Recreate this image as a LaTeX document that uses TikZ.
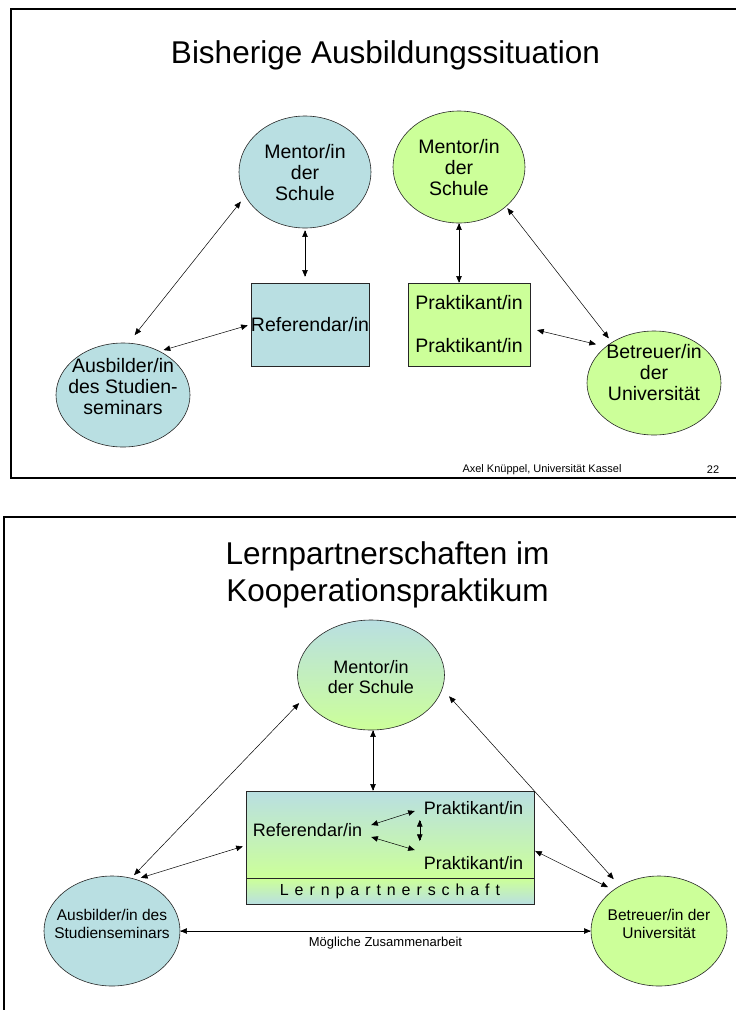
\documentclass[tikz,border=0pt]{standalone}
\usepackage{fontspec}
\setmainfont{Liberation Sans}
\usetikzlibrary{arrows,positioning,calc,shapes.geometric}
\definecolor{seminarblau}{HTML}{B9DFE2}
\definecolor{unigruen}{HTML}{CCFF99}

\begin{document}
\begin{tikzpicture}[x=1pt,y=-1pt,
  rolle/.style={ellipse, draw=black!85, line width=.6pt, inner sep=0pt},
  kasten/.style={rectangle, draw=black!85, line width=.6pt, inner sep=0pt, align=center},
  gross/.style={font=\fontsize{19.5}{21}\selectfont, align=center, inner sep=0pt},
  mittel/.style={font=\fontsize{18}{20}\selectfont, align=center, inner sep=1pt},
  klein/.style={font=\fontsize{15.5}{18}\selectfont, align=center, inner sep=0pt},
  titel/.style={font=\fontsize{31.5}{37}\selectfont, inner sep=0pt},
  pfeil/.style={triangle 45-triangle 45, line width=.5pt},
  rahmen/.style={line width=2.2pt}]
\useasboundingbox (0,0) rectangle (736,1010);
\clip (0,0) rectangle (736,1010);
% Folie 22
\begin{scope}
  \draw[rahmen] (760,9) -- (11,9) -- (11,478) -- (760,478);
  \node[titel, anchor=base] (titelA) at (385.5,63) {Bisherige Ausbildungssituation};
  \node[rolle, fill=seminarblau, minimum width=132pt, minimum height=112pt] (mentorA) at (305,172) {};
  \node[gross] (mentorAt) at ([yshift=-1pt]mentorA.center) {Mentor/in\\der\\Schule};
  \node[rolle, fill=unigruen, minimum width=132pt, minimum height=112pt] (mentorB) at (459,167) {};
  \node[gross] (mentorBt) at ([yshift=-1pt]mentorB.center) {Mentor/in\\der\\Schule};
  \node[rolle, fill=seminarblau, minimum width=134pt, minimum height=104pt] (ausbA) at (123,395) {};
  \node[gross] (ausbAt) at ([yshift=8pt]ausbA.center) {Ausbilder/in\\des Studien-\\seminars};
  \node[rolle, fill=unigruen, minimum width=134pt, minimum height=104pt] (betrB) at (654,383) {};
  \node[gross] (betrBt) at ([yshift=10pt]betrB.center) {Betreuer/in\\der\\Universität};
  \node[kasten, gross, fill=seminarblau, minimum width=116pt, minimum height=83pt] (refA) at (310,324.5) {Referendar/in};
  \node[kasten, gross, fill=unigruen, minimum width=122pt, minimum height=83pt] (prakB) at (469,324.5) {Praktikant/in\\[22pt]Praktikant/in};
  \draw[pfeil, shorten <=10pt, shorten >=7pt] (ausbA.84) -- (mentorA.202);
  \draw[pfeil, shorten <=2pt, shorten >=6pt] (mentorA.south) -- (mentorA.south |- refA.north);
  \draw[pfeil, shorten <=4pt, shorten >=3pt] (ausbA.50) -- (refA.west);
  \draw[pfeil] (mentorB.south) -- (mentorB.south |- prakB.north);
  \draw[pfeil, shorten <=2pt, shorten >=5pt] (mentorB.-40) -- (betrB.136);
  \draw[pfeil, shorten <=7pt, shorten >=10pt] ([yshift=-4pt]prakB.east) -- (betrB.143);
  \node[font=\fontsize{11}{12}\selectfont, inner sep=0pt] (fussA) at (542,470) {Axel Knüppel, Universität Kassel};
  \node[font=\fontsize{11}{12}\selectfont, inner sep=0pt] (seiteA) at (713,470) {22};
\end{scope}
% Folie mit Lernpartnerschaft
\begin{scope}
  \draw[rahmen] (760,517) -- (4,517) -- (4,1030);
  \node[titel, anchor=base] (titelB1) at (387.5,564) {Lernpartnerschaften im};
  \node[titel, anchor=base] (titelB2) at (387.5,601) {Kooperationspraktikum};
  \node[rolle, top color=seminarblau, bottom color=unigruen, minimum width=147pt, minimum height=110pt] (mentorC) at (371,675) {};
  \node[mittel] (mentorCt) at ([yshift=-2pt]mentorC.center) {Mentor/in\\der Schule};
  \node[kasten, top color=seminarblau, bottom color=unigruen, minimum width=288pt, minimum height=87pt] (lernbox) at (390,834.5) {};
  \node[kasten, top color=unigruen, bottom color=seminarblau, minimum width=288pt, minimum height=26pt,
        font=\fontsize{16}{18}\selectfont, below=0pt of lernbox] (lpschaft) {\addfontfeatures{LetterSpace=37}Lernpartnerschaft};
  \node[mittel] (refC) at (307.5,830) {Referendar/in};
  \node[mittel] (prakC1) at (473.5,808) {Praktikant/in};
  \node[mittel] (prakC2) at (473.5,863) {Praktikant/in};
  \draw[pfeil] ([shift={(8,-5)}]refC.east) -- ([shift={(-8,3)}]prakC1.west);
  \draw[pfeil] ([shift={(8,7)}]refC.east) -- ([shift={(-8,-13)}]prakC2.west);
  \draw[pfeil] ([shift={(-3,12)}]prakC1.west) -- ([shift={(-3,-22)}]prakC2.west);
  \node[rolle, fill=seminarblau, minimum width=136pt, minimum height=110pt] (ausbC) at (112,931) {};
  \node[klein] (ausbCt) at ([yshift=7pt]ausbC.center) {Ausbilder/in des\\Studienseminars};
  \node[rolle, fill=unigruen, minimum width=136pt, minimum height=110pt] (betrC) at (659,931) {};
  \node[klein] (betrCt) at ([yshift=7pt]betrC.center) {Betreuer/in der\\Universität};
  \draw[pfeil] ([xshift=2pt]mentorC.south) -- ([xshift=2pt]mentorC.south |- lernbox.north);
  \draw[pfeil, shorten <=4pt, shorten >=7pt] (ausbC.70) -- (mentorC.199);
  \draw[pfeil, shorten <=5pt, shorten >=3pt] (ausbC.65) -- ([yshift=-11pt]lernbox.west);
  \draw[pfeil, shorten <=10pt, shorten >=9pt] (mentorC.-11) -- (betrC.131);
  \draw[pfeil, shorten <=1pt, shorten >=6pt] ([yshift=-16pt]lernbox.east) -- (betrC.138);
  \draw[pfeil] (ausbC.east) -- node[below=6pt, font=\fontsize{13}{15}\selectfont, inner sep=0pt] (moeglich) {Mögliche Zusammenarbeit} (betrC.west);
\end{scope}
\end{tikzpicture}
\end{document}
